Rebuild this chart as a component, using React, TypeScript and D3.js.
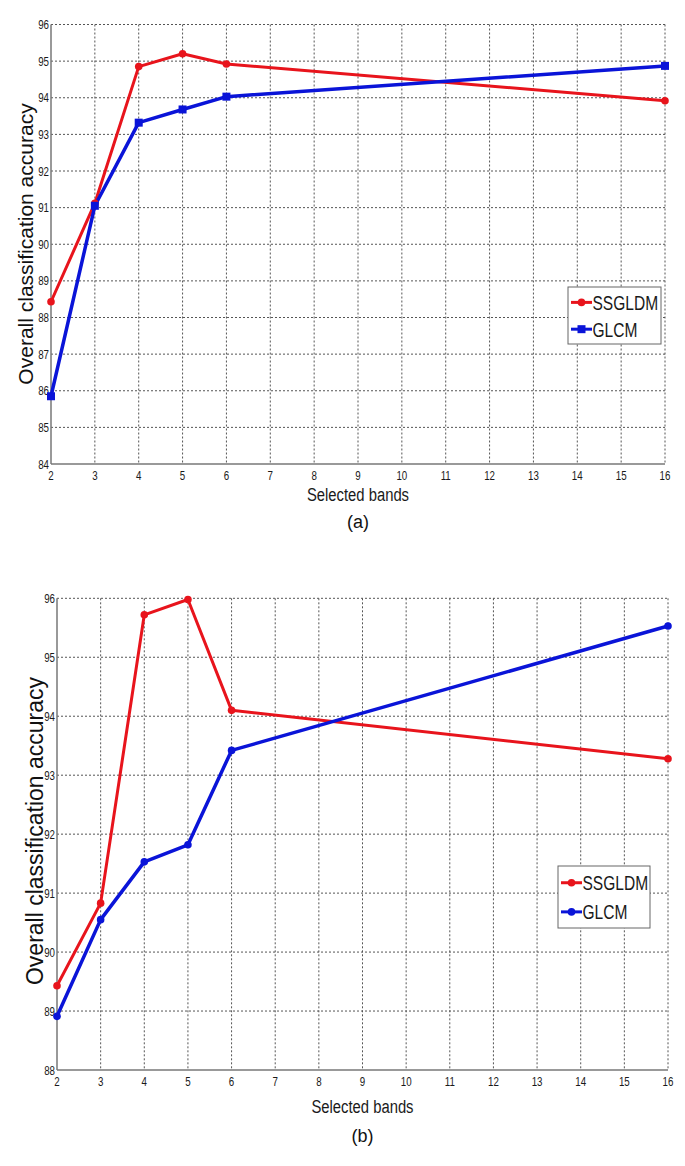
import React from "react";
import * as d3 from "d3";

const bands = [2, 3, 4, 5, 6, 16];
const xTicks = d3.range(2, 17);

const ssgldmA = [88.43, 91.12, 94.85, 95.2, 94.92, 93.92];
const glcmA = [85.85, 91.05, 93.32, 93.68, 94.03, 94.87];
const yTicksA = d3.range(84, 97);

const ssgldmB = [89.43, 90.83, 95.72, 95.98, 94.1, 93.28];
const glcmB = [88.91, 90.55, 91.53, 91.82, 93.42, 95.53];
const yTicksB = d3.range(88, 97);

const seriesNames = ["SSGLDM", "GLCM"];
const colors = ["#e8141c", "#0a14d8"];

const font = "'Liberation Sans', Arial, sans-serif";

function NText(props: { x: number; y: number; sx: number; size: number; anchor?: string; dy?: string; children: React.ReactNode }) {
  return (
    <text transform={`translate(${props.x},${props.y}) scale(${props.sx},1)`} textAnchor={props.anchor || "start"} dy={props.dy}
      fontFamily={font} fontSize={props.size} fill="#1a1a1a">{props.children}</text>
  );
}

type PanelProps = {
  left: number; right: number; top: number; bottom: number;
  yDomain: [number, number]; yTicks: number[];
  s1: number[]; s2: number[];
  blueMarker: "square" | "circle";
  yLabelX: number; yLabelY: number; yLabelSize: number;
  xLabelY: number; capY: number; caption: string;
  legend: { x: number; y: number; w: number; h: number };
};

function Panel(p: PanelProps) {
  const x = d3.scaleLinear().domain([2, 16]).range([p.left, p.right]);
  const y = d3.scaleLinear().domain(p.yDomain).range([p.bottom, p.top]);
  const line = d3.line<number>().x((_, i) => x(bands[i])).y((v) => y(v));
  const grid = "#555";
  const marker = (cx: number, cy: number, kind: string, color: string, key: string) =>
    kind === "square" ? (
      <rect key={key} x={cx - 4} y={cy - 4} width={8} height={8} fill={color} />
    ) : (
      <circle key={key} cx={cx} cy={cy} r={3.8} fill={color} />
    );
  const lg = p.legend;
  return (
    <g>
      {xTicks.slice(1).map((t) => (
        <line key={"gx" + t} x1={x(t)} x2={x(t)} y1={p.top} y2={p.bottom} stroke={grid} strokeWidth={1} strokeDasharray="2,2" />
      ))}
      {p.yTicks.slice(1).map((t) => (
        <line key={"gy" + t} x1={p.left} x2={p.right} y1={y(t)} y2={y(t)} stroke={grid} strokeWidth={1} strokeDasharray="2,2" />
      ))}
      <line x1={p.left} x2={p.left} y1={p.top} y2={p.bottom} stroke="#777" strokeWidth={1.5} />
      <line x1={p.left} x2={p.right} y1={p.bottom} y2={p.bottom} stroke="#777" strokeWidth={1.5} />
      {p.yTicks.map((t) => (
        <NText key={"yt" + t} x={p.left - 2} y={y(t)} dy="0.35em" anchor="end" sx={0.75} size={13}>{t}</NText>
      ))}
      {xTicks.map((t) => (
        <NText key={"xt" + t} x={x(t)} y={p.bottom + 16} anchor="middle" sx={0.75} size={13}>{t}</NText>
      ))}
      <path d={line(p.s1) || ""} fill="none" stroke={colors[0]} strokeWidth={3} strokeLinejoin="round" />
      <path d={line(p.s2) || ""} fill="none" stroke={colors[1]} strokeWidth={3.5} strokeLinejoin="round" />
      {p.s1.map((v, i) => marker(x(bands[i]), y(v), "circle", colors[0], "m1" + i))}
      {p.s2.map((v, i) => marker(x(bands[i]), y(v), p.blueMarker, colors[1], "m2" + i))}
      <text transform={`translate(${p.yLabelX},${p.yLabelY}) rotate(-90)`} textAnchor="middle" fontFamily={font} fontSize={p.yLabelSize} fill="#111">Overall classification accuracy</text>
      <NText x={(p.left + p.right) / 2} y={p.xLabelY} anchor="middle" sx={0.78} size={19}>Selected bands</NText>
      <text x={(p.left + p.right) / 2} y={p.capY} textAnchor="middle" fontFamily={font} fontSize={18} fill="#111">{p.caption}</text>
      <rect x={lg.x} y={lg.y} width={lg.w} height={lg.h} fill="#fff" stroke="#666" strokeWidth={1} />
      {seriesNames.map((n, i) => {
        const ly = lg.y + lg.h * (i === 0 ? 0.27 : 0.74);
        return (
          <g key={n}>
            <line x1={lg.x + 3} x2={lg.x + 24} y1={ly} y2={ly} stroke={colors[i]} strokeWidth={3} />
            {marker(lg.x + 13.5, ly, i === 1 ? p.blueMarker : "circle", colors[i], "lm" + i)}
            <NText x={lg.x + 24.5} y={ly} dy="0.36em" sx={0.74} size={21}>{n}</NText>
          </g>
        );
      })}
    </g>
  );
}

export default function App() {
  return (
    <svg width={685} height={1166} style={{ position: "absolute", left: 0, top: 0, background: "#fff" }}>
      <Panel left={51} right={665} top={24.5} bottom={464} yDomain={[84, 96]} yTicks={yTicksA}
        s1={ssgldmA} s2={glcmA} blueMarker="square" yLabelX={33} yLabelY={244} yLabelSize={21}
        xLabelY={501} capY={528} caption="(a)"
        legend={{ x: 568, y: 287, w: 93, h: 57 }} />
      <Panel left={57} right={668} top={598.3} bottom={1070} yDomain={[88, 96]} yTicks={yTicksB}
        s1={ssgldmB} s2={glcmB} blueMarker="circle" yLabelX={43} yLabelY={831} yLabelSize={23}
        xLabelY={1113} capY={1142} caption="(b)"
        legend={{ x: 558, y: 866, w: 92, h: 62 }} />
    </svg>
  );
}
